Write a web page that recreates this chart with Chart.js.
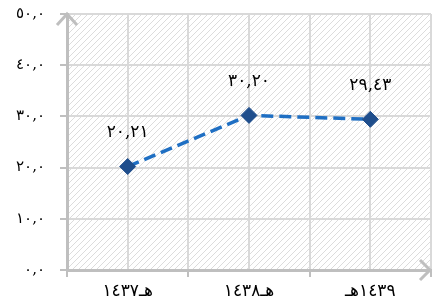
<!DOCTYPE html>
<html>
<head>
<meta charset="utf-8">
<script src="https://cdn.jsdelivr.net/npm/chart.js@4.4.1/dist/chart.umd.min.js"></script>
<style>
  html, body { margin: 0; padding: 0; background: #fff; }
  #wrap { width: 440px; height: 303px; }
</style>
</head>
<body>
<div id="wrap"><canvas id="chart"></canvas></div>
<script>
// years (hijri), drawn in visual order as in the picture
const years = ['هـ١٤٣٧', 'هـ١٤٣٨', '١٤٣٩هـ'];
const values = [20.21, 30.20, 29.43];
const yTicks = [0, 10, 20, 30, 40, 50];

const arabicDigits = '٠١٢٣٤٥٦٧٨٩';
function toArabic(num, decimals) {
    return num.toFixed(decimals).replace('.', ',').replace(/[0-9]/g, d => arabicDigits[d]);
}

const fontFamily = "'DejaVu Serif', 'DejaVu Sans', serif";

// hatched plot background
function makeHatch() {
    const c = document.createElement('canvas');
    c.width = 6; c.height = 6;
    const g = c.getContext('2d');
    g.fillStyle = '#ffffff';
    g.fillRect(0, 0, 6, 6);
    g.strokeStyle = '#dcdcdc';
    g.lineWidth = 1;
    g.beginPath();
    g.moveTo(-1, 7); g.lineTo(7, -1);
    g.moveTo(-1, 1); g.lineTo(1, -1);
    g.moveTo(5, 7); g.lineTo(7, 5);
    g.stroke();
    return g.createPattern(c, 'repeat');
}

const hatchPlugin = {
    id: 'hatch',
    beforeDraw(chart) {
        const { ctx, chartArea } = chart;
        ctx.save();
        ctx.fillStyle = makeHatch();
        ctx.fillRect(chartArea.left, chartArea.top, chartArea.right - chartArea.left, chartArea.bottom - chartArea.top);
        ctx.restore();
    }
};

const arrowPlugin = {
    id: 'arrows',
    afterDraw(chart) {
        const { ctx, chartArea } = chart;
        ctx.save();
        ctx.strokeStyle = '#bfbfbf';
        ctx.lineWidth = 3;
        ctx.lineCap = 'butt';
        // up arrow on the y axis
        ctx.beginPath();
        ctx.moveTo(chartArea.left - 10, chartArea.top + 11);
        ctx.lineTo(chartArea.left, chartArea.top);
        ctx.lineTo(chartArea.left + 10, chartArea.top + 11);
        ctx.stroke();
        // right arrow on the x axis
        ctx.beginPath();
        ctx.moveTo(chartArea.right - 11, chartArea.bottom - 10);
        ctx.lineTo(chartArea.right - 1, chartArea.bottom);
        ctx.lineTo(chartArea.right - 11, chartArea.bottom + 10);
        ctx.stroke();
        ctx.restore();
    }
};

const valueLabelPlugin = {
    id: 'valueLabels',
    afterDatasetsDraw(chart) {
        const { ctx } = chart;
        const meta = chart.getDatasetMeta(0);
        ctx.save();
        ctx.fillStyle = '#000';
        ctx.font = '17px ' + fontFamily;
        ctx.textAlign = 'center';
        ctx.textBaseline = 'middle';
        meta.data.forEach((pt, i) => {
            ctx.fillText(toArabic(values[i], 2), pt.x, pt.y - 34);
        });
        ctx.restore();
    }
};

const ctx = document.getElementById('chart').getContext('2d');
new Chart(ctx, {
    type: 'line',
    data: {
        datasets: [{
            data: values.map((v, i) => ({ x: i + 0.5, y: v })),
            borderColor: '#1f6fc3',
            borderWidth: 3.5,
            borderDash: [12, 6],
            pointStyle: 'rectRot',
            pointRadius: 8,
            pointHoverRadius: 8,
            pointBackgroundColor: '#1f4e8c',
            pointBorderColor: '#1f4e8c',
            pointBorderWidth: 1,
            tension: 0,
            fill: false
        }]
    },
    options: {
        responsive: true,
        maintainAspectRatio: false,
        animation: false,
        layout: { padding: { top: 14, right: 1, left: 0, bottom: 0 } },
        plugins: {
            legend: { display: false },
            tooltip: { enabled: false }
        },
        scales: {
            x: {
                type: 'linear',
                min: 0,
                max: years.length,
                afterBuildTicks(scale) {
                    const t = [];
                    for (let v = 0; v <= years.length; v += 0.5) t.push({ value: v });
                    scale.ticks = t;
                },
                afterFit(scale) {
                    scale.height = 33;
                    scale.paddingLeft = 0;
                    scale.paddingRight = 0;
                },
                grid: {
                    color: '#d9d9d9',
                    lineWidth: 2,
                    tickLength: 7,
                    tickColor: c => (c.tick && c.tick.value % 1 === 0) ? '#bfbfbf' : 'rgba(0,0,0,0)'
                },
                border: { color: '#bfbfbf', width: 3 },
                ticks: {
                    autoSkip: false,
                    maxRotation: 0,
                    padding: 4,
                    color: '#000',
                    font: { size: 17, family: fontFamily },
                    callback: v => (v % 1 === 0.5) ? years[Math.floor(v)] : ''
                }
            },
            y: {
                min: 0,
                max: 50,
                afterBuildTicks(scale) { scale.ticks = yTicks.map(v => ({ value: v })); },
                afterFit(scale) {
                    scale.width = 67;
                    scale.paddingTop = 0;
                    scale.paddingBottom = 0;
                },
                grid: {
                    color: '#d9d9d9',
                    lineWidth: 2,
                    tickLength: 7,
                    tickColor: '#bfbfbf'
                },
                border: { color: '#bfbfbf', width: 3 },
                ticks: {
                    padding: 15,
                    color: '#000',
                    font: { size: 15, family: fontFamily },
                    callback: v => toArabic(v, 1)
                }
            }
        }
    },
    plugins: [hatchPlugin, arrowPlugin, valueLabelPlugin]
});
</script>
</body>
</html>
